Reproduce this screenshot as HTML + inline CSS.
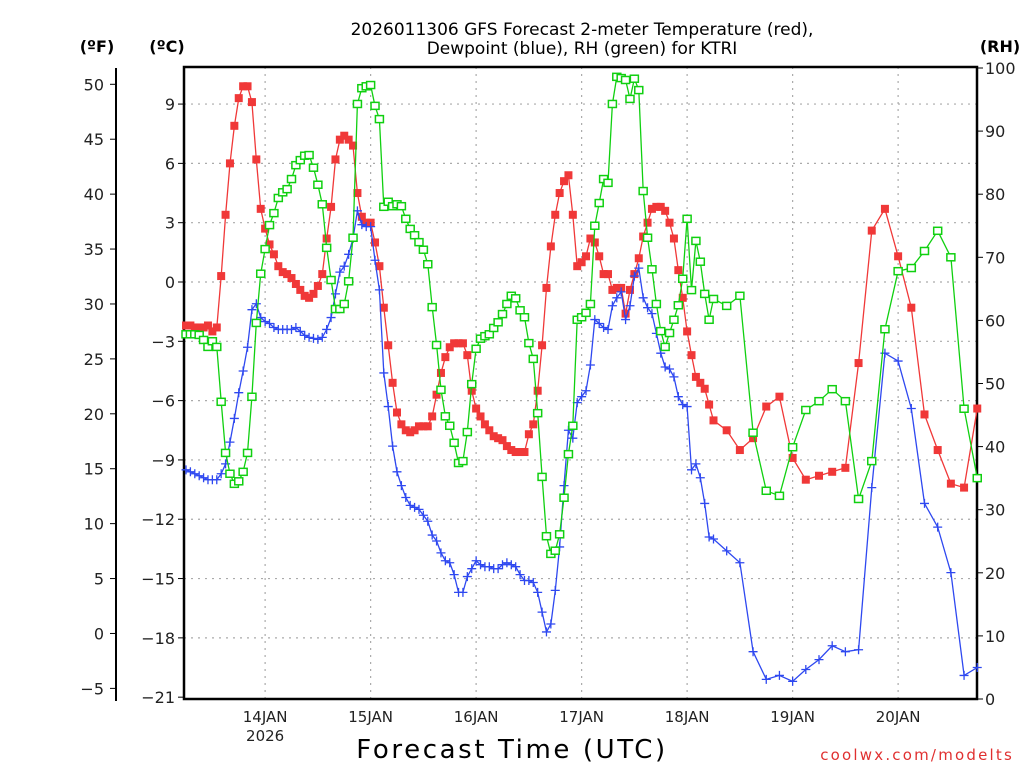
<!DOCTYPE html>
<html><head><meta charset="utf-8"><style>
html,body{margin:0;padding:0;background:#fff;}
svg{display:block;font-family:"DejaVu Sans","Liberation Sans",sans-serif;}
</style></head><body>
<svg id="chart" width="1024" height="768" viewBox="0 0 1024 768">
<g font-size="17" text-anchor="middle" fill="#000">
<text x="582" y="35">2026011306 GFS Forecast 2-meter Temperature (red),</text>
<text x="582" y="54">Dewpoint (blue), RH (green) for KTRI</text>
</g>
<text x="97" y="52" font-size="16" font-weight="bold" text-anchor="middle">(ºF)</text>
<text x="167" y="52" font-size="16" font-weight="bold" text-anchor="middle">(ºC)</text>
<text x="1000" y="52" font-size="16" font-weight="bold" text-anchor="middle">(RH)</text>
<g id="grid"></g>
<g id="axes"></g>
<g id="series"></g>
<text x="512" y="758" font-size="26" text-anchor="middle" letter-spacing="2.6">Forecast Time (UTC)</text>
<text x="1014" y="760" font-size="15" fill="#e03030" text-anchor="end" letter-spacing="2.2">coolwx.com/modelts</text>
</svg>
<script>
const hours = [];
for (let h = 0; h <= 120; h++) hours.push(h);
for (let h = 123; h <= 180; h += 3) hours.push(h);
const tempC = [-2.2,-2.2,-2.3,-2.3,-2.3,-2.2,-2.5,-2.3,0.3,3.4,6.0,7.9,9.3,9.9,9.9,9.1,6.2,3.7,2.7,1.9,1.4,0.8,0.5,0.4,0.2,-0.1,-0.4,-0.7,-0.8,-0.6,-0.2,0.4,2.2,3.8,6.2,7.2,7.4,7.2,6.9,4.5,3.3,3.0,3.0,2.0,0.8,-1.3,-3.2,-5.1,-6.6,-7.2,-7.5,-7.6,-7.5,-7.3,-7.3,-7.3,-6.8,-5.7,-4.6,-3.8,-3.3,-3.1,-3.1,-3.1,-3.7,-5.5,-6.4,-6.8,-7.2,-7.5,-7.8,-7.9,-8.0,-8.3,-8.5,-8.6,-8.6,-8.6,-7.7,-7.2,-5.5,-3.2,-0.3,1.8,3.4,4.5,5.1,5.4,3.4,0.8,1.0,1.3,2.2,2.0,1.3,0.4,0.4,-0.4,-0.3,-0.3,-1.6,-0.4,0.4,1.2,2.3,3.0,3.7,3.8,3.8,3.6,3.0,2.2,0.6,-0.8,-2.5,-3.7,-4.8,-5.1,-5.4,-6.2,-7.0,-7.5,-8.5,-7.9,-6.3,-5.8,-8.9,-10.0,-9.8,-9.6,-9.4,-4.1,2.6,3.7,1.3,-1.3,-6.7,-8.5,-10.2,-10.4,-6.4];
const dewC = [-9.5,-9.6,-9.7,-9.8,-9.9,-10.0,-10.0,-10.0,-9.7,-9.2,-8.1,-6.9,-5.6,-4.5,-3.3,-1.4,-1.1,-1.8,-2.0,-2.1,-2.3,-2.4,-2.4,-2.4,-2.4,-2.3,-2.5,-2.7,-2.8,-2.85,-2.9,-2.8,-2.4,-1.8,-0.6,0.5,0.8,1.4,2.2,3.6,2.9,2.8,2.8,1.1,-0.4,-4.6,-6.3,-8.3,-9.6,-10.3,-10.9,-11.3,-11.4,-11.5,-11.8,-12.1,-12.8,-13.1,-13.7,-14.1,-14.2,-14.8,-15.7,-15.7,-14.9,-14.5,-14.1,-14.3,-14.4,-14.4,-14.5,-14.5,-14.3,-14.2,-14.3,-14.4,-14.8,-15.1,-15.1,-15.2,-15.7,-16.7,-17.7,-17.3,-15.6,-13.4,-10.3,-7.5,-7.9,-6.1,-5.8,-5.5,-4.2,-1.9,-2.1,-2.3,-2.4,-1.2,-0.8,-0.5,-1.9,-1.2,0.3,0.7,-0.8,-1.3,-1.6,-2.6,-3.6,-4.3,-4.4,-4.8,-5.8,-6.2,-6.3,-9.5,-9.2,-9.9,-11.2,-12.9,-13.0,-13.6,-14.2,-18.7,-20.1,-19.9,-20.2,-19.6,-19.1,-18.4,-18.7,-18.6,-10.4,-3.6,-4.0,-6.4,-11.2,-12.4,-14.7,-19.9,-19.5];
const rhPct = [57.8,57.8,57.8,57.7,56.9,55.8,56.7,55.8,47.1,39.0,35.7,34.1,34.5,36.0,39.0,47.9,59.6,67.4,71.3,75.1,77.0,79.4,80.3,80.8,82.4,84.6,85.4,86.1,86.2,84.2,81.5,78.4,71.5,66.4,61.8,61.8,62.6,66.2,73.1,94.3,96.8,97.1,97.3,94.0,91.9,78.0,78.8,78.1,78.4,78.1,76.1,74.5,73.5,72.4,71.2,68.9,62.1,56.1,49.0,44.8,43.3,40.6,37.4,37.7,42.3,49.9,55.5,57.1,57.5,57.8,58.8,59.7,61.0,62.6,63.9,63.5,61.6,60.5,56.4,53.9,45.3,35.2,25.8,23.0,23.5,26.1,31.9,38.8,43.3,60.1,60.5,61.2,62.6,75.0,78.6,82.4,81.8,94.3,98.6,98.4,98.1,95.1,98.3,96.5,80.5,73.1,68.1,62.6,58.3,55.8,58.0,60.1,62.4,66.6,76.1,64.8,72.6,69.3,64.2,60.1,63.4,62.3,63.9,42.2,33.0,32.2,39.9,45.8,47.2,49.1,47.2,31.7,37.7,58.6,67.8,68.3,71.0,74.2,70.0,46.0,35.0];
const cTicks = [9,6,3,0,-3,-6,-9,-12,-15,-18,-21];
const fTicks = [50,45,40,35,30,25,20,15,10,5,0,-5];
const rhTicks = [100,90,80,70,60,50,40,30,20,10,0];
const dayLabels = ["14JAN","15JAN","16JAN","17JAN","18JAN","19JAN","20JAN"];
const dayHours = [18,42,66,90,114,138,162];

const NS = "http://www.w3.org/2000/svg";
const L = 184, R = 977, T = 67, B = 699;
const xH = h => 186 + h * 105.5 / 24;
const yC = c => 282 - c * 19.77;
const yF = f => yC((f - 32) * 5 / 9);
const yRH = r => 699 - r * 6.31;
function mk(tag, attrs, parent) {
  const e = document.createElementNS(NS, tag);
  for (const k in attrs) e.setAttribute(k, attrs[k]);
  parent.appendChild(e);
  return e;
}
const grid = document.getElementById('grid');
const axes = document.getElementById('axes');
const series = document.getElementById('series');

cTicks.forEach(c => {
  const y = yC(c);
  if (c !== -21) {
    const g = mk('line', {x1: L, x2: R, y1: y, y2: y, stroke: '#aaa', 'stroke-width': 1.2, 'stroke-dasharray': '2,5'}, grid);
    
    
  }
  const t = mk('line', {x1: L - 6, x2: L, y1: y, y2: y, stroke: '#000', 'stroke-width': 1}, axes);
  
  
  const tx = mk('text', {x: 175, y: y + 6, 'font-size': 16, 'text-anchor': 'end', fill: '#222'}, axes);
  tx.textContent = c < 0 ? '\u2212' + Math.abs(c) : String(c);
  
  
});
fTicks.forEach(f => {
  const y = yF(f);
  const t = mk('line', {x1: 110, x2: 116, y1: y, y2: y, stroke: '#000', 'stroke-width': 1}, axes);
  
  
  const tx = mk('text', {x: 104, y: y + 6, 'font-size': 16, 'text-anchor': 'end', fill: '#222'}, axes);
  tx.textContent = f < 0 ? '\u2212' + Math.abs(f) : String(f);
  
  
});
rhTicks.forEach(r => {
  const y = yRH(r);
  const t = mk('line', {x1: R, x2: R + 6, y1: y, y2: y, stroke: '#000', 'stroke-width': 1}, axes);
  
  
  const tx = mk('text', {x: 985, y: y + 6, 'font-size': 16, 'text-anchor': 'start', fill: '#222'}, axes);
  tx.textContent = String(r);
  
  
});
dayHours.forEach((h, i) => {
  const x = xH(h);
  const g = mk('line', {x1: x, x2: x, y1: T, y2: B, stroke: '#aaa', 'stroke-width': 1.2, 'stroke-dasharray': '2,5'}, grid);
  
  
  const tx = mk('text', {x: x, y: 722, 'font-size': 15, 'text-anchor': 'middle', fill: '#222'}, axes);
  tx.textContent = dayLabels[i];
  
  
});
const yr = mk('text', {x: xH(dayHours[0]), y: 741, 'font-size': 15, 'text-anchor': 'middle', fill: '#222'}, axes);
yr.textContent = '2026';



const frame = mk('rect', {x: L, y: T, width: R - L, height: B - T, fill: 'none', stroke: '#000', 'stroke-width': 2.5}, axes);


const fAxis = mk('line', {x1: 116, x2: 116, y1: 68, y2: 701, stroke: '#000', 'stroke-width': 2}, axes);



function drawSeries(vals, yfn, color, kind, name) {
  const g = mk('g', {}, series);
  
  
  const pts = vals.map((v, i) => xH(hours[i]).toFixed(1) + ',' + yfn(v).toFixed(1)).join(' ');
  const pl = mk('polyline', {points: pts, fill: 'none', stroke: color, 'stroke-width': 1.3}, g);
  
  
  vals.forEach((v, i) => {
    const x = xH(hours[i]), y = yfn(v);
    let m;
    if (kind === 'filled') {
      m = mk('rect', {x: x - 4, y: y - 4, width: 8, height: 8, fill: color}, g);
    } else if (kind === 'hollow') {
      m = mk('rect', {x: x - 4, y: y - 3.5, width: 8, height: 7, fill: '#fff', stroke: color, 'stroke-width': 1.5}, g);
    } else {
      m = mk('path', {d: `M${x-4.5},${y}H${x+4.5}M${x},${y-4.5}V${y+4.5}`, stroke: color, 'stroke-width': 1.3, fill: 'none'}, g);
    }
    
    
  });
}
drawSeries(tempC, yC, '#f03838', 'filled', 'temperature');
drawSeries(dewC, yC, '#2e48f0', 'plus', 'dewpoint');
drawSeries(rhPct, yRH, '#10d010', 'hollow', 'relative-humidity');
</script>
</body></html>
